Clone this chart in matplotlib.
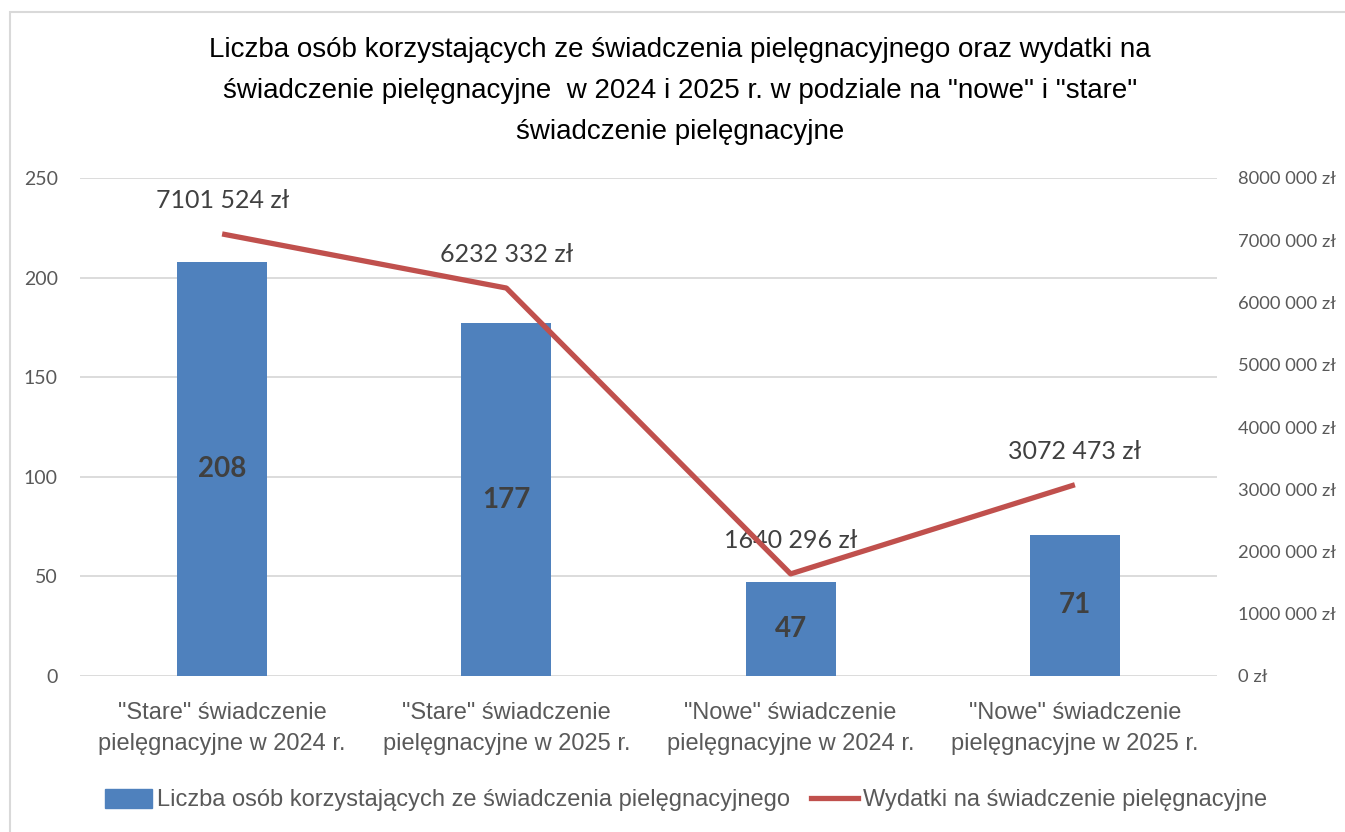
import matplotlib
matplotlib.use('Agg')
import matplotlib.pyplot as plt
from matplotlib.patches import Rectangle
import numpy as np

# dane
kategorie = ['"Stare" świadczenie\npielęgnacyjne w 2024 r.',
             '"Stare" świadczenie\npielęgnacyjne w 2025 r.',
             '"Nowe" świadczenie\npielęgnacyjne w 2024 r.',
             '"Nowe" świadczenie\npielęgnacyjne w 2025 r.']
liczba_osob = [208, 177, 47, 71]
wydatki = [7101524, 6232332, 1640296, 3072473]
lewa_os = [0, 50, 100, 150, 200, 250]
prawa_os = [0, 1000000, 2000000, 3000000, 4000000, 5000000, 6000000, 7000000, 8000000]

tytul = ('Liczba osób korzystających ze świadczenia pielęgnacyjnego oraz wydatki na\n'
         'świadczenie pielęgnacyjne  w 2024 i 2025 r. w podziale na "nowe" i "stare"\n'
         'świadczenie pielęgnacyjne')
leg_slupki = 'Liczba osób korzystających ze świadczenia pielęgnacyjnego'
leg_linia = 'Wydatki na świadczenie pielęgnacyjne'

niebieski = '#4F81BD'
czerwony = '#C0504D'
szary = '#595959'

waski = 'Liberation Sans'
calibri = 'Lato'


def zl(v):
    s = f'{int(v):,}'.replace(',', ' ')
    # jak w Excelu: pierwsza grupa tysięcy sklejona
    parts = s.split(' ')
    if len(parts) >= 3:
        s = parts[0] + parts[1] + ' ' + ' '.join(parts[2:])
    return s + ' zł'


fig = plt.figure(figsize=(13.45, 8.32), dpi=100)
fig.patches.append(Rectangle((10/1345, -0.1), 1.2, 1 - 12/832 + 0.1, transform=fig.transFigure,
                             fill=False, edgecolor='#D9D9D9', linewidth=1.5))

ax = fig.add_axes([80/1345, 1 - 676/832, (1217 - 80)/1345, (676 - 178)/832])
ax2 = ax.twinx()
x = np.arange(len(kategorie))

ax.bar(x, liczba_osob, width=0.316, color=niebieski, zorder=2)
ax.set_ylim(0, 250)
ax.set_xlim(-0.5, 3.5)
ax.set_yticks(lewa_os)
ax.yaxis.grid(True, color='#D9D9D9', linewidth=1.3, zorder=0)
ax.set_axisbelow(True)
ax.set_xticks(x)
ax.set_xticklabels(kategorie, fontsize=17, family=waski, color=szary, linespacing=1.5)
ax.tick_params(axis='both', length=0)
ax.tick_params(axis='x', pad=19)
ax.tick_params(axis='y', pad=16, labelsize=14, labelcolor=szary)
for lab in ax.get_yticklabels():
    lab.set_family(calibri)

for xi, v in zip(x, liczba_osob):
    ax.text(xi, v / 2, str(v), ha='center', va='center', fontsize=20, fontweight='bold',
            color='#404040', family=calibri, zorder=3)

ax2.plot(x, wydatki, color=czerwony, linewidth=3.8, solid_capstyle='butt', zorder=4)
ax2.set_ylim(0, 8000000)
ax2.set_yticks(prawa_os)
ax2.set_yticklabels([zl(v) for v in prawa_os], family=calibri, fontsize=13.2, color=szary)
ax2.tick_params(axis='y', length=0, pad=15)

for xi, v in zip(x, wydatki):
    ax2.annotate(zl(v), (xi, v), xytext=(0, 24), textcoords='offset points', ha='center',
                 va='center', fontsize=18, color='#404040', family=calibri)

for a in (ax, ax2):
    for s in a.spines.values():
        s.set_visible(False)

fig.text(680/1345, 1 - 37/832, tytul, ha='center', va='top', fontsize=20, family=waski,
         color='black', linespacing=1.75)

# legenda
h1 = Rectangle((0, 0), 1, 1, color=niebieski)
h2 = plt.Line2D([0], [0], color=czerwony, linewidth=3.8)
fig.legend([h1, h2], [leg_slupki, leg_linia], loc='center', bbox_to_anchor=(686/1345, 1 - 800/832),
           ncol=2, frameon=False, prop={'family': waski, 'size': 17}, labelcolor=szary,
           handlelength=2.0, handletextpad=0.2, columnspacing=0.9, handleheight=0.9)

fig.savefig('out.png', dpi=100)
